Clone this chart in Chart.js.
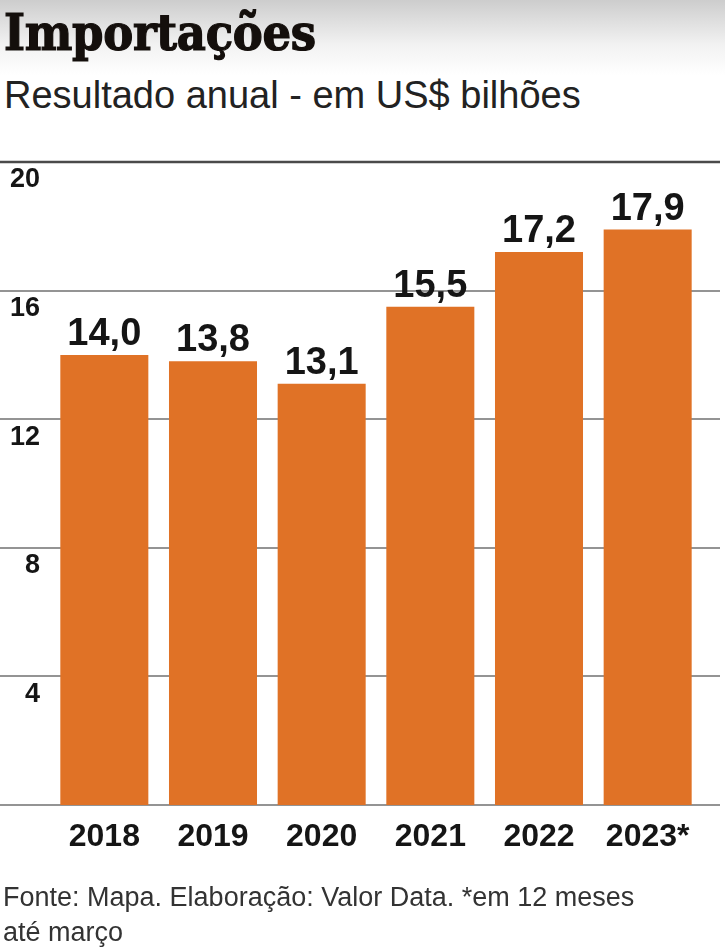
<!DOCTYPE html>
<html lang="pt">
<head>
    <meta charset="UTF-8">
    <title>Importações</title>
    <script src="https://cdn.jsdelivr.net/npm/chart.js"></script>
    <style>
        body {
    margin: 0;
    width: 725px;
    height: 951px;
    background: linear-gradient(#cdcdcd 0px, #f2f2f2 45px, #ffffff 75px, #ffffff 100%);
    position: relative;
    overflow: hidden;
    color: #1a1a1a;
}
.titulo {
    position: absolute;
    left: 4px;
    top: 8px;
    font-family: "DejaVu Serif Condensed", "DejaVu Serif", serif;
    font-weight: bold;
    font-size: 50px;
    line-height: 1;
    color: #140f0c;
    -webkit-text-stroke: 1.2px #140f0c;
    letter-spacing: -0.3px;
}
.subtitulo {
    position: absolute;
    left: 4px;
    top: 76px;
    font-family: "Liberation Sans Narrow", "Liberation Sans", sans-serif;
    font-size: 38px;
    line-height: 1;
    color: #222;
}
.fonte {
    position: absolute;
    left: 3px;
    top: 880px;
    font-family: "Liberation Sans Narrow", "Liberation Sans", sans-serif;
    font-size: 27px;
    line-height: 35px;
    color: #333;
}
canvas {
    position: absolute;
    left: 0;
    top: 0;
}
    </style>
</head>
<body>
    <div class="titulo">Importações</div>
    <div class="subtitulo">Resultado anual - em US$ bilhões</div>
    <canvas id="grafico" width="725" height="951"></canvas>
    <div class="fonte">Fonte: Mapa. Elaboração: Valor Data. *em 12 meses<br>até março</div>

    <script>
        // dados do gráfico
        const anos = ['2018', '2019', '2020', '2021', '2022', '2023*'];
        const importacoes = [14.0, 13.8, 13.1, 15.5, 17.2, 17.9];
        const marcasY = [0, 4, 8, 12, 16, 20];

        const laranja = '#e07226';

        // linhas de grade de ponta a ponta (atrás das barras)
        const gradePlugin = {
            id: 'grade',
            beforeDatasetsDraw(chart) {
                const ctx = chart.ctx;
                const y = chart.scales.y;
                ctx.save();
                marcasY.forEach(v => {
                    const py = Math.round(y.getPixelForValue(v));
                    const topo = v === marcasY[marcasY.length - 1];
                    ctx.strokeStyle = topo ? '#4a4a4a' : '#707070';
                    ctx.lineWidth = topo ? 2.5 : 1.6;
                    ctx.beginPath();
                    ctx.moveTo(0, py);
                    ctx.lineTo(720, py);
                    ctx.stroke();
                });
                ctx.restore();
            }
        };

        // valores sobre as barras
        const rotulosPlugin = {
            id: 'rotulos',
            afterDatasetsDraw(chart) {
                const ctx = chart.ctx;
                const meta = chart.getDatasetMeta(0);
                ctx.save();
                ctx.font = 'bold 38px "Liberation Sans", Arial, sans-serif';
                ctx.fillStyle = '#151515';
                ctx.textAlign = 'center';
                ctx.textBaseline = 'alphabetic';
                meta.data.forEach((bar, i) => {
                    const txt = importacoes[i].toFixed(1).replace('.', ',');
                    ctx.fillText(txt, bar.x, bar.y - 10);
                });
                ctx.restore();
            }
        };

        const ctx = document.getElementById('grafico').getContext('2d');
        new Chart(ctx, {
            type: 'bar',
            data: {
                labels: anos,
                datasets: [{
                    data: importacoes,
                    backgroundColor: laranja,
                    borderWidth: 0,
                    categoryPercentage: 1,
                    barPercentage: 0.81
                }]
            },
            options: {
                responsive: false,
                animation: false,
                devicePixelRatio: 1,
                layout: {
                    padding: { top: 162, right: 23, bottom: 96, left: 0 }
                },
                plugins: {
                    legend: { display: false },
                    tooltip: { enabled: false }
                },
                scales: {
                    x: {
                        afterFit(scale) { scale.height = 50; },
                        grid: { display: false, drawTicks: false },
                        border: { display: false },
                        ticks: {
                            padding: 13,
                            color: '#151515',
                            font: { family: '"Liberation Sans", Arial, sans-serif', weight: 'bold', size: 32 }
                        }
                    },
                    y: {
                        min: 0,
                        max: 20,
                        afterFit(scale) { scale.width = 50; },
                        afterBuildTicks(scale) {
                            scale.ticks = marcasY.map(v => ({ value: v }));
                        },
                        grid: { display: false, drawTicks: false },
                        border: { display: false },
                        ticks: {
                            padding: 10,
                            crossAlign: 'near',
                            labelOffset: 18,
                            color: '#151515',
                            font: { family: '"Liberation Sans", Arial, sans-serif', weight: 'bold', size: 27 },
                            callback: (v) => v === 0 ? '' : v
                        }
                    }
                }
            },
            plugins: [gradePlugin, rotulosPlugin]
        });
    </script>
</body>
</html>
